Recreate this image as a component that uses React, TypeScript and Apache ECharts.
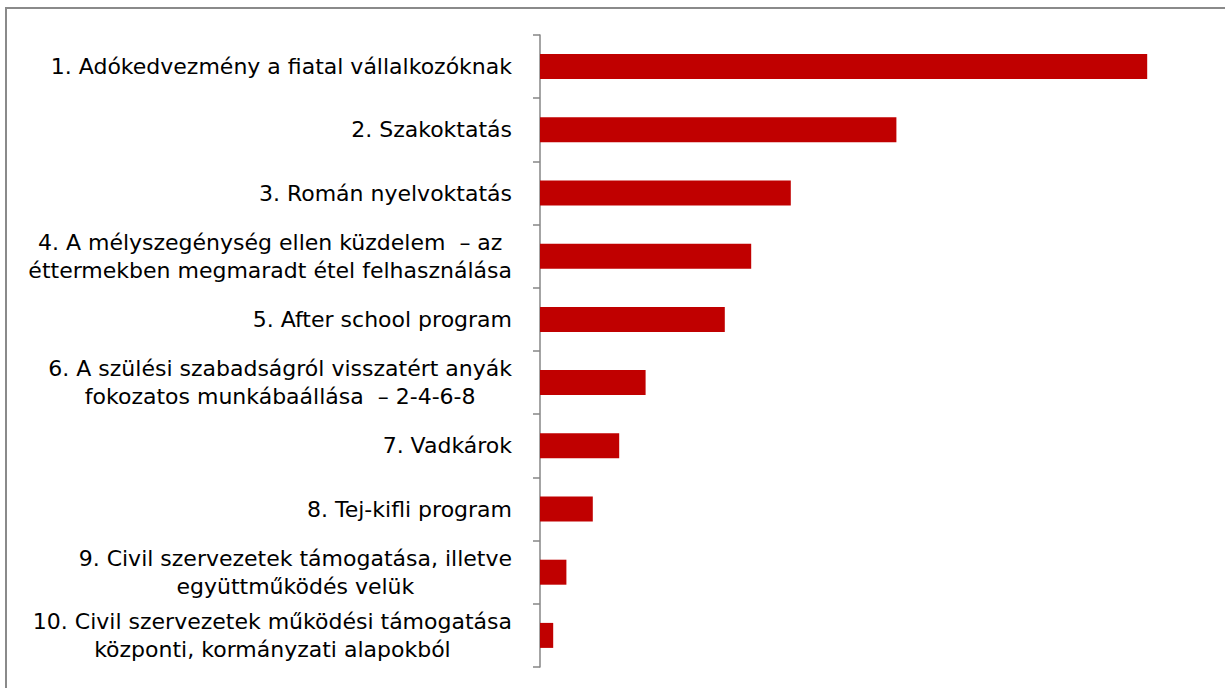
import React, { useEffect, useRef } from "react";
import * as echarts from "echarts";

const categories: string[] = [
  "1. Adókedvezmény a fiatal vállalkozóknak",
  "2. Szakoktatás",
  "3. Román nyelvoktatás",
  "4. A mélyszegénység ellen küzdelem  – az\néttermekben megmaradt étel felhasználása",
  "5. After school program",
  "6. A szülési szabadságról visszatért anyák\nfokozatos munkábaállása  – 2-4-6-8",
  "7. Vadkárok",
  "8. Tej-kifli program",
  "9. Civil szervezetek támogatása, illetve\negyüttműködés velük",
  "10. Civil szervezetek működési támogatása\nközponti, kormányzati alapokból",
];

const values: number[] = [46, 27, 19, 16, 14, 8, 6, 4, 2, 1];

const FONT = "DejaVu Sans, Liberation Sans, Arial, sans-serif";

export default function App() {
  const ref = useRef<HTMLDivElement>(null);
  useEffect(() => {
    if (!ref.current) return;
    const chart = echarts.init(ref.current, undefined, { renderer: "svg" });
    chart.setOption({
      animation: false,
      backgroundColor: "#ffffff",
      graphic: [
        {
          type: "rect",
          shape: { x: 6, y: 8, width: 1400, height: 900 },
          style: { fill: "none", stroke: "#8a8a8a", lineWidth: 2 },
          silent: true,
        },
      ],
      grid: { left: 540, top: 35, width: 660, height: 632, containLabel: false },
      xAxis: {
        type: "value",
        min: 0,
        max: 50,
        show: false,
        splitLine: { show: false },
      },
      yAxis: {
        type: "category",
        inverse: true,
        data: categories,
        axisLine: { show: true, lineStyle: { color: "#868686", width: 1.5 } },
        axisTick: { show: true, length: 7, lineStyle: { color: "#868686", width: 1.5 } },
        axisLabel: {
          margin: 28,
          align: "right",
          color: "#000",
          fontFamily: FONT,
          fontSize: 22,
          lineHeight: 28,
          formatter: (v: string) =>
            v
              .split("\n")
              .map((l) => "{c|" + l + "}")
              .join("\n"),
          rich: {
            c: {
              align: "center",
              color: "#000",
              fontFamily: FONT,
              fontSize: 22,
              lineHeight: 28,
            },
          },
        },
      },
      series: [
        {
          type: "bar",
          data: values,
          barWidth: 25,
          itemStyle: { color: "#c00000" },
          label: { show: false },
        },
      ],
    });
    return () => chart.dispose();
  }, []);
  return (
    <div
      ref={ref}
      style={{ position: "fixed", left: 0, top: 0, width: 1225, height: 688, background: "#fff" }}
    />
  );
}
